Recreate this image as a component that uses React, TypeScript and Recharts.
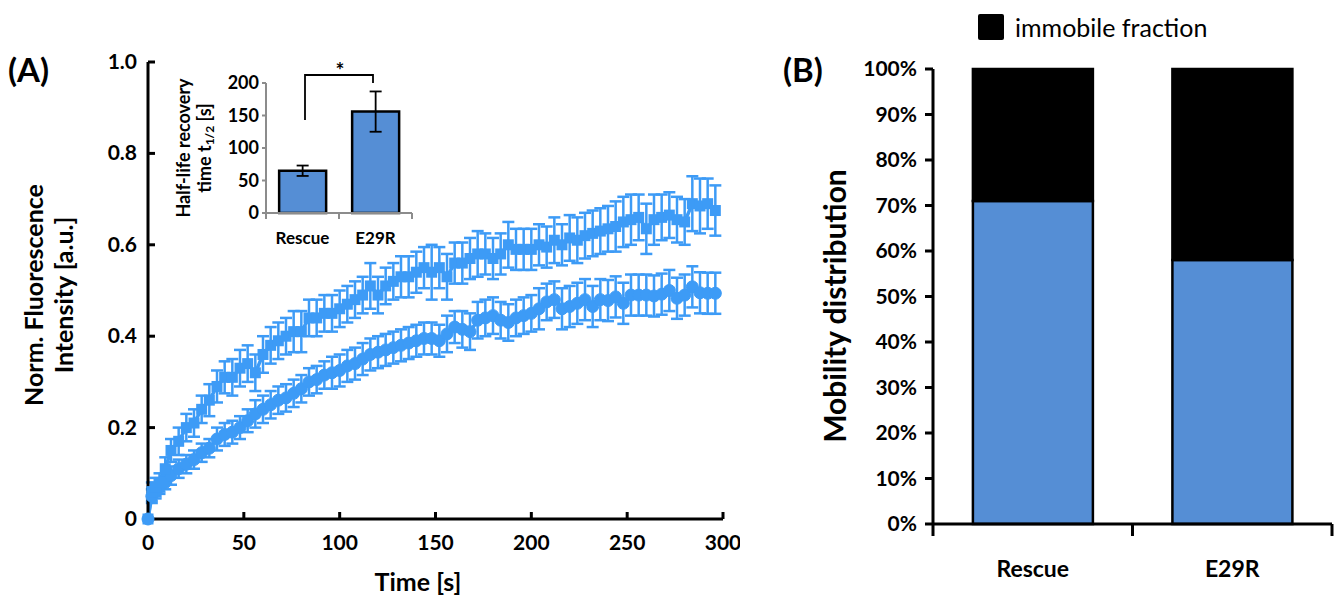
import React from 'react';
import {
  ComposedChart,
  Line,
  ErrorBar,
  XAxis,
  YAxis,
  BarChart,
  Bar,
  Legend,
} from 'recharts';

const CURVE_BLUE = '#3d9bf6';
const BAR_BLUE = '#558ed5';
const GREY_AXIS = '#8c8c8c';

// FRAP recovery curves (time in s, normalised intensity)
const TIME_S = [
  0, 2, 4, 6, 9, 12, 16, 20, 24, 28,
  32, 36, 40, 44, 48, 52, 56, 60, 64, 68,
  72, 76, 80, 84, 88, 92, 96, 100, 104, 108,
  112, 116, 120, 124, 128, 132, 136, 140, 144, 148,
  152, 156, 160, 164, 168, 172, 176, 180, 184, 188,
  192, 196, 200, 204, 208, 212, 216, 220, 224, 228,
  232, 236, 240, 244, 248, 252, 256, 260, 264, 268,
  272, 276, 280, 284, 288, 292, 296,
];

const RESCUE = [
  0, 0.06, 0.07, 0.08, 0.11, 0.15, 0.17, 0.2, 0.21, 0.24,
  0.26, 0.29, 0.31, 0.31, 0.33, 0.34, 0.32, 0.36, 0.38, 0.39,
  0.4, 0.41, 0.41, 0.44, 0.44, 0.45, 0.45, 0.46, 0.47, 0.48,
  0.49, 0.51, 0.49, 0.51, 0.52, 0.53, 0.53, 0.54, 0.55, 0.54,
  0.55, 0.53, 0.56, 0.56, 0.57, 0.58, 0.58, 0.57, 0.58, 0.6,
  0.59, 0.59, 0.59, 0.6, 0.595, 0.61, 0.6, 0.615, 0.61, 0.62,
  0.625, 0.63, 0.635, 0.64, 0.65, 0.655, 0.66, 0.635, 0.655, 0.66,
  0.665, 0.655, 0.65, 0.69, 0.685, 0.69, 0.675,
];

const RESCUE_ERR = [
  0, 0.02, 0.02, 0.02, 0.025, 0.025, 0.03, 0.03, 0.03, 0.03,
  0.035, 0.035, 0.035, 0.04, 0.04, 0.04, 0.04, 0.04, 0.04, 0.04,
  0.04, 0.045, 0.045, 0.04, 0.04, 0.04, 0.04, 0.04, 0.04, 0.04,
  0.04, 0.05, 0.04, 0.04, 0.04, 0.045, 0.045, 0.045, 0.045, 0.06,
  0.045, 0.05, 0.045, 0.045, 0.045, 0.05, 0.045, 0.045, 0.045, 0.05,
  0.045, 0.045, 0.045, 0.045, 0.045, 0.05, 0.045, 0.05, 0.05, 0.05,
  0.05, 0.05, 0.05, 0.055, 0.055, 0.055, 0.05, 0.055, 0.055, 0.05,
  0.05, 0.05, 0.05, 0.06, 0.06, 0.055, 0.055,
];

const E29R = [
  0, 0.05, 0.06, 0.07, 0.08, 0.095, 0.11, 0.12, 0.13, 0.145,
  0.155, 0.175, 0.185, 0.19, 0.2, 0.215, 0.23, 0.24, 0.25, 0.26,
  0.265, 0.275, 0.285, 0.3, 0.305, 0.315, 0.32, 0.325, 0.335, 0.34,
  0.35, 0.36, 0.365, 0.37, 0.375, 0.38, 0.385, 0.39, 0.395, 0.395,
  0.39, 0.405, 0.42, 0.415, 0.41, 0.435, 0.44, 0.445, 0.435, 0.43,
  0.44, 0.445, 0.45, 0.46, 0.475, 0.48, 0.46, 0.465, 0.472, 0.48,
  0.465, 0.48, 0.478, 0.486, 0.472, 0.49, 0.49, 0.49, 0.488, 0.492,
  0.5, 0.483, 0.49, 0.508, 0.495, 0.494, 0.494,
];

const E29R_ERR = [
  0, 0.015, 0.015, 0.015, 0.015, 0.02, 0.02, 0.02, 0.02, 0.02,
  0.02, 0.025, 0.025, 0.025, 0.025, 0.025, 0.03, 0.03, 0.03, 0.03,
  0.03, 0.03, 0.03, 0.03, 0.03, 0.03, 0.035, 0.035, 0.035, 0.035,
  0.035, 0.035, 0.035, 0.035, 0.035, 0.035, 0.035, 0.035, 0.035, 0.035,
  0.035, 0.04, 0.035, 0.04, 0.04, 0.04, 0.04, 0.04, 0.04, 0.04,
  0.04, 0.04, 0.04, 0.045, 0.04, 0.04, 0.045, 0.045, 0.045, 0.045,
  0.045, 0.045, 0.045, 0.045, 0.045, 0.045, 0.045, 0.045, 0.045, 0.045,
  0.045, 0.045, 0.045, 0.045, 0.045, 0.045, 0.045,
];

const TIME_TICKS = [0, 50, 100, 150, 200, 250, 300];
const INTENSITY_TICKS = [0, 0.2, 0.4, 0.6, 0.8, 1.0];

// inset: half-life recovery time
const GROUPS = ['Rescue', 'E29R'];
const HALF_LIFE = [65, 156];
const HALF_LIFE_ERR = [8, 31];
const HALF_LIFE_TICKS = [0, 50, 100, 150, 200];

// panel B: mobility distribution (%)
const MOBILE = [71, 58];
const IMMOBILE = [29, 42];
const PERCENT_TICKS = [0, 10, 20, 30, 40, 50, 60, 70, 80, 90, 100];

// fraction of the category axis: group edges at 0, 0.5, 1 and centres at 0.25, 0.75
const EDGE_TICKS = [0, 0.25, 0.5, 0.75, 1];

const recoveryData = TIME_S.map((t, i) => ({
  t,
  rescue: RESCUE[i],
  rescueErr: RESCUE_ERR[i],
  e29r: E29R[i],
  e29rErr: E29R_ERR[i],
}));

const halfLifeData = GROUPS.map((name, i) => ({
  name,
  value: HALF_LIFE[i],
  err: HALF_LIFE_ERR[i],
}));

const mobilityData = GROUPS.map((name, i) => ({
  name,
  mobile: MOBILE[i],
  immobile: IMMOBILE[i],
}));

const renderSquare = (props: any) => {
  const { cx, cy, index } = props;
  if (cx == null || cy == null) return <g key={`sq-${index}`} />;
  return <rect key={`sq-${index}`} x={cx - 5.5} y={cy - 5.5} width={11} height={11} fill={CURVE_BLUE} />;
};

const MainXTick = (props: any) => {
  const { x, y, payload } = props;
  return (
    <g>
      {payload.value !== 0 && <line x1={x} y1={y} x2={x} y2={y - 7} stroke="#000" strokeWidth={3} />}
      <text x={x} y={y + 31} textAnchor="middle" fontSize={21} fontWeight={700} fill="#000">
        {payload.value}
      </text>
    </g>
  );
};

const MainYTick = (props: any) => {
  const { x, y, payload } = props;
  const v = payload.value as number;
  return (
    <g>
      {v !== 0 && <line x1={x} y1={y} x2={x + 7} y2={y} stroke="#000" strokeWidth={3} />}
      <text x={x - 11} y={y + 7} textAnchor="end" fontSize={21} fontWeight={700} fill="#000">
        {v === 0 ? '0' : v.toFixed(1)}
      </text>
    </g>
  );
};

const makeEdgeTick = (tickLen: number, color: string, labelDy: number, fontSize: number, width: number) =>
  (props: any) => {
    const { x, y, payload } = props;
    const k = Math.round((payload.value as number) * 4);
    if (k % 2 === 0) {
      return <line x1={x} y1={y} x2={x} y2={y + tickLen} stroke={color} strokeWidth={width} />;
    }
    return (
      <text x={x} y={y + labelDy} textAnchor="middle" fontSize={fontSize} fontWeight={700} fill="#000">
        {GROUPS[(k - 1) / 2]}
      </text>
    );
  };

const InsetEdgeTick = makeEdgeTick(6, GREY_AXIS, 31, 17, 2);
const MobilityEdgeTick = makeEdgeTick(12, '#000', 53, 23, 3);

function RecoveryPanel() {
  return (
    <ComposedChart
      width={740}
      height={596}
      data={recoveryData}
      margin={{ top: 62, right: 17, bottom: 0, left: 0 }}
    >
      <XAxis
        dataKey="t"
        type="number"
        domain={[0, 300]}
        ticks={TIME_TICKS}
        interval={0}
        height={77}
        axisLine={{ stroke: '#000', strokeWidth: 3 }}
        tickLine={false}
        tickSize={0}
        tickMargin={0}
        tick={MainXTick}
      />
      <YAxis
        type="number"
        domain={[0, 1]}
        ticks={INTENSITY_TICKS}
        interval={0}
        width={148}
        axisLine={{ stroke: '#000', strokeWidth: 3 }}
        tickLine={false}
        tickSize={0}
        tickMargin={0}
        tick={MainYTick}
      />
      <Line
        dataKey="e29r"
        stroke={CURVE_BLUE}
        strokeWidth={3.5}
        dot={{ r: 6, fill: CURVE_BLUE, stroke: CURVE_BLUE, strokeWidth: 1 }}
        isAnimationActive={false}
      >
        <ErrorBar dataKey="e29rErr" direction="y" width={6} stroke={CURVE_BLUE} strokeWidth={2.5} isAnimationActive={false} />
      </Line>
      <Line
        dataKey="rescue"
        stroke={CURVE_BLUE}
        strokeWidth={3.5}
        dot={renderSquare}
        isAnimationActive={false}
      >
        <ErrorBar dataKey="rescueErr" direction="y" width={6} stroke={CURVE_BLUE} strokeWidth={2.5} isAnimationActive={false} />
      </Line>
      <text x={8} y={82} fontSize={33} fontWeight={700} fill="#000">(A)</text>
      <text transform="translate(43, 295) rotate(-90)" textAnchor="middle" fontSize={25} fontWeight={700} fill="#000">
        Norm. Fluorescence
      </text>
      <text transform="translate(73, 295) rotate(-90)" textAnchor="middle" fontSize={25} fontWeight={700} fill="#000">
        Intensity [a.u.]
      </text>
      <text x={418} y={591} textAnchor="middle" fontSize={25} fontWeight={700} fill="#000">
        Time [s]
      </text>
    </ComposedChart>
  );
}

function HalfLifeInset() {
  return (
    <BarChart
      width={280}
      height={200}
      data={halfLifeData}
      margin={{ top: 28, right: 8, bottom: 10, left: 0 }}
      barCategoryGap="18%"
    >
      <XAxis dataKey="name" hide height={0} />
      <XAxis
        xAxisId="edge"
        type="number"
        domain={[0, 1]}
        allowDataOverflow
        ticks={EDGE_TICKS}
        interval={0}
        height={32}
        axisLine={{ stroke: GREY_AXIS, strokeWidth: 2 }}
        tickLine={false}
        tickSize={0}
        tickMargin={0}
        tick={InsetEdgeTick}
      />
      <YAxis
        domain={[0, 200]}
        ticks={HALF_LIFE_TICKS}
        interval={0}
        width={126}
        axisLine={{ stroke: GREY_AXIS, strokeWidth: 2 }}
        tickLine={{ stroke: GREY_AXIS, strokeWidth: 2 }}
        tickSize={4}
        tickMargin={3}
        tick={{ fill: '#000', fontSize: 18, fontWeight: 700 }}
      />
      <Bar dataKey="value" fill={BAR_BLUE} stroke="#000" strokeWidth={2.5} isAnimationActive={false}>
        <ErrorBar dataKey="err" direction="y" width={6} stroke="#000" strokeWidth={1.8} isAnimationActive={false} />
      </Bar>
      <text transform="translate(50, 93) rotate(-90)" textAnchor="middle" fontSize={18} fontWeight={700} fill="#000">
        Half-life  recovery
      </text>
      <text transform="translate(71, 93) rotate(-90)" textAnchor="middle" fontSize={18} fontWeight={700} fill="#000">
        time t<tspan fontSize={12} dy={3}>1/2</tspan><tspan dy={-3}> [s]</tspan>
      </text>
      <path d="M165 65 V20 H233 V28" stroke="#000" strokeWidth={1.8} fill="none" />
      <text x={200} y={23} textAnchor="middle" fontSize={21} fontWeight={700} fill="#000">*</text>
    </BarChart>
  );
}

function MobilityPanel() {
  return (
    <BarChart
      width={581}
      height={596}
      data={mobilityData}
      margin={{ top: 69, right: 9, bottom: 0, left: 0 }}
      barCategoryGap="20%"
    >
      <XAxis dataKey="name" hide height={0} />
      <XAxis
        xAxisId="edge"
        type="number"
        domain={[0, 1]}
        allowDataOverflow
        ticks={EDGE_TICKS}
        interval={0}
        height={72}
        axisLine={{ stroke: '#000', strokeWidth: 3 }}
        tickLine={false}
        tickSize={0}
        tickMargin={0}
        tick={MobilityEdgeTick}
      />
      <YAxis
        domain={[0, 100]}
        ticks={PERCENT_TICKS}
        interval={0}
        width={173}
        axisLine={{ stroke: '#000', strokeWidth: 3 }}
        tickLine={{ stroke: '#000', strokeWidth: 3 }}
        tickSize={8}
        tickMargin={8}
        tickFormatter={(v: number) => `${v}%`}
        tick={{ fill: '#000', fontSize: 21, fontWeight: 700 }}
      />
      <Legend
        verticalAlign="middle"
        layout="horizontal"
        wrapperStyle={{ top: 14, left: 218, width: 'auto' }}
        content={() => (
          <div style={{ display: 'flex', alignItems: 'center' }}>
            <div style={{ width: 26, height: 26, background: '#000', borderRadius: 2, marginRight: 11 }} />
            <span style={{ fontSize: 25, lineHeight: 1, color: '#000' }}>immobile fraction</span>
          </div>
        )}
      />
      <Bar dataKey="mobile" stackId="m" fill={BAR_BLUE} stroke="#000" strokeWidth={2.5} isAnimationActive={false} legendType="none" />
      <Bar dataKey="immobile" name="immobile fraction" stackId="m" fill="#000" stroke="#000" strokeWidth={2.5} isAnimationActive={false} />
      <text x={23} y={82} fontSize={33} fontWeight={700} fill="#000">(B)</text>
      <text transform="translate(86, 306) rotate(-90)" textAnchor="middle" fontSize={30} fontWeight={700} fill="#000">
        Mobility distribution
      </text>
    </BarChart>
  );
}

export default function App() {
  return (
    <div
      style={{
        position: 'absolute',
        left: 0,
        top: 0,
        width: 1341,
        height: 596,
        background: '#fff',
        fontFamily: 'Lato, "Open Sans", sans-serif',
      }}
    >
      <div style={{ position: 'absolute', left: 0, top: 0 }}>
        <RecoveryPanel />
      </div>
      <div style={{ position: 'absolute', left: 140, top: 55 }}>
        <HalfLifeInset />
      </div>
      <div style={{ position: 'absolute', left: 760, top: 0 }}>
        <MobilityPanel />
      </div>
    </div>
  );
}
